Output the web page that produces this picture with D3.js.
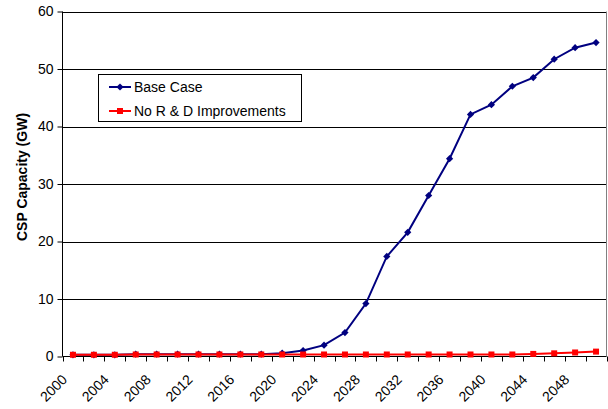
<!DOCTYPE html>
<html>
<head>
<meta charset="utf-8">
<script src="https://cdn.jsdelivr.net/npm/d3@7"></script>
<style>
  html, body { margin: 0; padding: 0; background: #fff; }
  svg { display: block; font-family: "Liberation Sans", Arial, sans-serif; }
</style>
</head>
<body>
<svg id="chart" width="608" height="409"></svg>
<script>
// Years on the category axis (every two years)
const years = d3.range(2000, 2051, 2);
// CSP capacity in GW
const baseCase = [0.3, 0.3, 0.3, 0.4, 0.4, 0.4, 0.4, 0.4, 0.4, 0.4, 0.57, 1.04, 1.97, 4.17, 9.2, 17.4, 21.6, 28.0, 34.4, 42.1, 43.8, 47.0, 48.5, 51.7, 53.7, 54.6];
const noRD =     [0.3, 0.3, 0.3, 0.35, 0.35, 0.35, 0.35, 0.35, 0.35, 0.35, 0.35, 0.35, 0.35, 0.35, 0.35, 0.35, 0.35, 0.35, 0.35, 0.35, 0.35, 0.35, 0.45, 0.55, 0.7, 0.85];
const seriesNames = ["Base Case", "No R & D Improvements"];
const seriesColors = ["#000080", "#ff0000"];
const yTicks = [0, 10, 20, 30, 40, 50, 60];
const yTitle = "CSP Capacity (GW)";

const svg = d3.select("#chart");
const plotLeft = 62.5, plotRight = 606.5, plotTop = 11.5, plotBottom = 356.5;

const x = d3.scaleBand().domain(years).range([plotLeft, plotRight]).padding(0);
const y = d3.scaleLinear().domain([0, 60]).range([plotBottom, plotTop]);
const cx = d => x(d) + x.bandwidth() / 2;

// gridlines
svg.append("g").selectAll("line").data(yTicks.filter(t => t > 0)).join("line")
  .attr("x1", plotLeft).attr("x2", plotRight)
  .attr("y1", d => Math.round(y(d)) + 0.5).attr("y2", d => Math.round(y(d)) + 0.5)
  .attr("stroke", "#000").attr("stroke-width", 1);

// plot area right border
svg.append("line").attr("x1", plotRight).attr("x2", plotRight).attr("y1", plotTop).attr("y2", plotBottom)
  .attr("stroke", "#808080");

// y axis
const yAxis = d3.axisLeft(y).tickValues(yTicks).tickSize(5).tickPadding(4).tickFormat(d3.format("d"));
const gy = svg.append("g").attr("transform", `translate(${plotLeft},0)`).call(yAxis);
gy.select(".domain").attr("d", `M-0,${plotTop}V${plotBottom}`).attr("stroke", "#000");
gy.selectAll(".tick line").attr("stroke", "#000");
gy.selectAll(".tick text").attr("font-size", 14).attr("fill", "#000")
  .attr("font-family", "Liberation Sans, Arial, sans-serif");

// x axis: ticks at category boundaries, labels every other category
const gx = svg.append("g").attr("transform", `translate(0,${plotBottom})`);
gx.append("line").attr("x1", plotLeft).attr("x2", plotRight).attr("y1", 0).attr("y2", 0).attr("stroke", "#000");
const bounds = years.map(d => x(d)).concat([plotRight]);
gx.selectAll("line.tk").data(bounds).join("line").attr("class", "tk")
  .attr("x1", d => Math.round(d) + 0.5).attr("x2", d => Math.round(d) + 0.5)
  .attr("y1", 0).attr("y2", 5).attr("stroke", "#000");
gx.selectAll("text").data(years.filter((d, i) => i % 2 === 0)).join("text")
  .attr("transform", d => `translate(${cx(d) - 12},${17}) rotate(-45)`)
  .attr("text-anchor", "end").attr("dy", "0.71em")
  .attr("font-size", 14).attr("fill", "#000")
  .text(d => d);

// y axis title
svg.append("text")
  .attr("transform", `translate(22,177) rotate(-90)`)
  .attr("text-anchor", "middle").attr("dy", "0.35em")
  .attr("font-size", 14).attr("font-weight", "bold").attr("fill", "#000")
  .text(yTitle);

// series
const series = [baseCase, noRD];
const line = d3.line().x((d, i) => cx(years[i])).y(d => y(d));
const diamond = d3.symbol().type(d3.symbolSquare).size(26);
const square = d3.symbol().type(d3.symbolSquare).size(36);
const shapes = [diamond, square];
const rot = [45, 0];

series.forEach((vals, s) => {
  const g = svg.append("g");
  g.append("path").datum(vals).attr("d", line)
    .attr("fill", "none").attr("stroke", seriesColors[s]).attr("stroke-width", 2);
  g.selectAll("path.m").data(vals).join("path").attr("class", "m")
    .attr("transform", (d, i) => `translate(${cx(years[i])},${y(d)}) rotate(${rot[s]})`)
    .attr("d", shapes[s]()).attr("fill", seriesColors[s]);
});

// legend
const lg = svg.append("g");
lg.append("rect").attr("x", 98.5).attr("y", 74.5).attr("width", 203).attr("height", 47)
  .attr("fill", "#fff").attr("stroke", "#000");
seriesNames.forEach((name, s) => {
  const ly = 87 + s * 24;
  lg.append("line").attr("x1", 109).attr("x2", 131).attr("y1", ly).attr("y2", ly)
    .attr("stroke", seriesColors[s]).attr("stroke-width", 2);
  lg.append("path").attr("transform", `translate(120,${ly}) rotate(${rot[s]})`).attr("d", shapes[s]())
    .attr("fill", seriesColors[s]);
  lg.append("text").attr("x", 134).attr("y", ly).attr("dy", "0.36em")
    .attr("font-size", 14).attr("fill", "#000").text(name);
});
</script>
</body>
</html>
